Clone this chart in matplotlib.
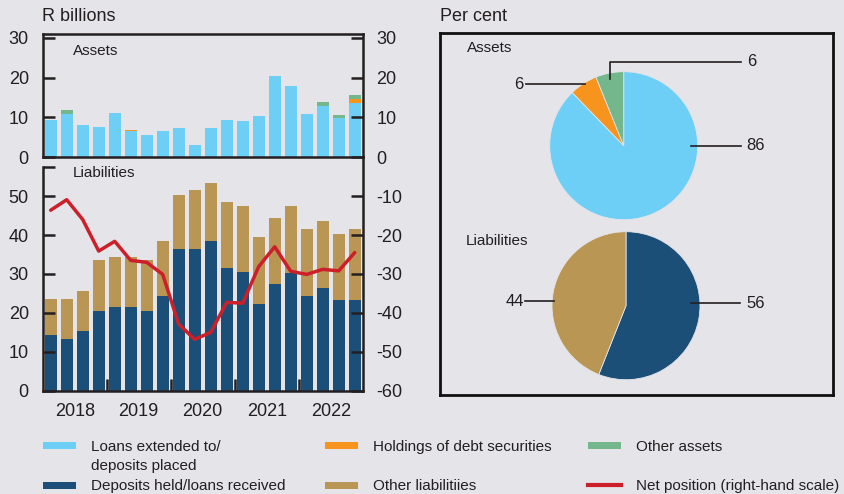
import matplotlib
matplotlib.use("Agg")
import matplotlib.pyplot as plt
from matplotlib.patches import Rectangle
from matplotlib.lines import Line2D
import numpy as np

# ---------------- data ----------------
quarters = [f"{y}Q{q}" for y in range(2018, 2023) for q in range(1, 5)]
years = ["2018", "2019", "2020", "2021", "2022"]

loans_extended = [9.3, 10.9, 8.0, 7.5, 11.1, 6.6, 5.7, 6.5, 7.3, 3.2,
                  7.3, 9.3, 9.1, 10.3, 20.3, 17.8, 10.9, 12.9, 9.8, 13.7]
debt_securities = [0, 0, 0, 0, 0, 0.15, 0, 0, 0, 0,
                   0, 0, 0, 0, 0, 0, 0, 0, 0, 1.0]
other_assets = [0, 1.0, 0, 0, 0, 0, 0, 0, 0, 0,
                0, 0, 0, 0, 0, 0, 0, 1.0, 0.9, 1.0]

deposits_held = [14.3, 13.2, 15.3, 20.4, 21.5, 21.5, 20.4, 24.3, 36.3, 36.3,
                 38.4, 31.5, 30.4, 22.2, 27.4, 30.2, 24.3, 26.3, 23.2, 23.2]
other_liabilities = [9.2, 10.3, 10.3, 13.1, 12.8, 12.8, 13.1, 14.1, 14.1, 15.2,
                     15.1, 16.9, 17.0, 17.2, 17.1, 17.2, 17.2, 17.2, 17.2, 18.3]

net_position = [-13.6, -10.9, -16.0, -24.1, -21.6, -26.5, -27.0, -30.1, -42.9, -46.8,
                -45.0, -37.3, -37.5, -28.1, -23.0, -29.3, -30.1, -28.8, -29.2, -24.5]

asset_shares = [86, 6, 6]          # loans, debt securities, other assets
liability_shares = [56, 44]        # deposits held, other liabilities

left_ticks_top = [0, 10, 20, 30]
left_ticks_bot = [0, 10, 20, 30, 40, 50]
right_ticks_bot = [-60, -50, -40, -30, -20, -10]

# ---------------- style ----------------
BG = "#e4e4e9"
C_LOANS = "#6dcff6"
C_DEBT = "#f7941d"
C_OTHER_A = "#74b78c"
C_DEP = "#1c4f78"
C_OTHER_L = "#b99653"
C_NET = "#cc1f2a"
TXT = "#231f20"

FS_AX = 13      # tick labels, units, years
FS_PANEL = 11   # "Assets" / "Liabilities"
FS_PIE = 12     # pie values
FS_LEG = 11     # legend

plt.rcParams["font.family"] = ["Liberation Sans", "DejaVu Sans"]
plt.rcParams["font.size"] = FS_AX
plt.rcParams["axes.unicode_minus"] = False
plt.rcParams["text.color"] = TXT

W, H = 844, 494
fig = plt.figure(figsize=(W / 100, H / 100), dpi=100)
fig.patch.set_facecolor(BG)


def box(x0, y0, x1, y1):
    """pixel box (top-left origin) -> figure fraction rect"""
    return [x0 / W, 1 - y1 / H, (x1 - x0) / W, (y1 - y0) / H]


SPINE_W = 1.8
TICK_LEN = 8.6
x = np.arange(len(quarters))
bw = 0.75

# ---------------- top panel: assets ----------------
ax_t = fig.add_axes(box(42.7, 33.7, 362.7, 157.3))
ax_t.set_facecolor("none")
b0 = np.zeros(len(x))
for vals, col in [(loans_extended, C_LOANS), (debt_securities, C_DEBT), (other_assets, C_OTHER_A)]:
    ax_t.bar(x, vals, bw, bottom=b0, color=col, linewidth=0)
    b0 = b0 + np.array(vals)
ax_t.set_xlim(-0.5, len(x) - 0.5)
ax_t.set_ylim(0, 31)
ax_t.set_xticks([])
ax_t.set_yticks(left_ticks_top)
ax_t.tick_params(axis="y", direction="in", length=TICK_LEN, width=SPINE_W,
                 labelsize=FS_AX, pad=10, colors=TXT, left=True, right=True,
                 labelleft=True, labelright=True)
for s in ax_t.spines.values():
    s.set_linewidth(SPINE_W)
    s.set_color(TXT)
ax_t.text(0.095, 0.86, "Assets", transform=ax_t.transAxes, fontsize=FS_PANEL,
          va="center", ha="left")

# ---------------- bottom panel: liabilities ----------------
ax_b = fig.add_axes(box(42.7, 157.3, 362.7, 390.7))
ax_b.set_facecolor("none")
ax_b.bar(x, deposits_held, bw, color=C_DEP, linewidth=0)
ax_b.bar(x, other_liabilities, bw, bottom=deposits_held, color=C_OTHER_L, linewidth=0)
ax_b.set_xlim(-0.5, len(x) - 0.5)
ax_b.set_ylim(0, 60)
ax_b.set_yticks(left_ticks_bot)
ax_b.set_yticks([57.6], minor=True)
ax_b.tick_params(axis="y", which="both", direction="in", length=TICK_LEN, width=SPINE_W,
                 labelsize=FS_AX, pad=10, colors=TXT, left=True, right=False)
ax_b.spines["top"].set_visible(False)
ax_b.spines["right"].set_visible(False)
ax_b.spines["left"].set_bounds(0, 57.6)
for s in ("left", "bottom"):
    ax_b.spines[s].set_linewidth(SPINE_W)
    ax_b.spines[s].set_color(TXT)

# year boundaries as inward ticks, year names centred under each year
ax_b.set_xticks([3.5, 7.5, 11.5, 15.5])
ax_b.set_xticklabels([])
ax_b.set_xticks([1.5, 5.5, 9.5, 13.5, 17.5], minor=True)
ax_b.set_xticklabels(years, minor=True)
ax_b.tick_params(axis="x", which="major", direction="in", length=TICK_LEN,
                 width=SPINE_W, colors=TXT)
ax_b.tick_params(axis="x", which="minor", length=0, labelsize=FS_AX, pad=9, colors=TXT)
ax_b.text(0.095, 0.932, "Liabilities", transform=ax_b.transAxes, fontsize=FS_PANEL,
          va="center", ha="left")

ax_r = ax_b.twinx()
ax_r.plot(x, net_position, color=C_NET, linewidth=2.5, solid_joinstyle="round",
          solid_capstyle="round")
ax_r.set_ylim(-60, 0)
ax_r.set_yticks(right_ticks_bot)
ax_r.tick_params(axis="y", direction="in", length=TICK_LEN, width=SPINE_W,
                 labelsize=FS_AX, pad=10, colors=TXT)
for s in ("top", "left", "bottom"):
    ax_r.spines[s].set_visible(False)
ax_r.spines["right"].set_linewidth(SPINE_W)
ax_r.spines["right"].set_color(TXT)

fig.text(42 / W, 1 - 16.7 / H, "R billions", fontsize=FS_AX, va="center", ha="left")

# ---------------- right panel: composition pies ----------------
PX0, PY0, PX1, PY1 = 440, 33, 833, 395
ax_p = fig.add_axes(box(PX0, PY0, PX1, PY1))
ax_p.set_facecolor("none")
R = 74
ca = (183.7, 249.3)   # assets pie centre (box units, y up)
cl = (186.0, 89.3)    # liabilities pie centre
wp = dict(linewidth=0.6, edgecolor=BG)
ax_p.pie(asset_shares, colors=[C_LOANS, C_DEBT, C_OTHER_A], startangle=90,
         counterclock=False, radius=R, center=ca, frame=True, wedgeprops=wp)
ax_p.pie(liability_shares, colors=[C_DEP, C_OTHER_L], startangle=90,
         counterclock=False, radius=R, center=cl, frame=True, wedgeprops=wp)
ax_p.set_xlim(0, PX1 - PX0)
ax_p.set_ylim(0, PY1 - PY0)
ax_p.set_aspect("auto")
ax_p.set_xticks([])
ax_p.set_yticks([])
for s in ax_p.spines.values():
    s.set_linewidth(2.0)
    s.set_color("#111111")

lk = dict(color=TXT, linewidth=1.2)
# assets labels
ax_p.plot([ca[0] + 67, ca[0] + 117], [ca[1], ca[1]], **lk)
ax_p.text(ca[0] + 123, ca[1], f"{asset_shares[0]}", va="center", ha="left", fontsize=FS_PIE)
ax_p.plot([ca[0] - 97.7, ca[0] - 38.7], [ca[1] + 61.5, ca[1] + 61.5], **lk)
ax_p.text(ca[0] - 100, ca[1] + 61.5, f"{asset_shares[1]}", va="center", ha="right", fontsize=FS_PIE)
ax_p.plot([ca[0] - 13.7, ca[0] - 13.7, ca[0] + 117], [ca[1] + 66.7, ca[1] + 83.7, ca[1] + 83.7], **lk)
ax_p.text(ca[0] + 123, ca[1] + 83.7, f"{asset_shares[2]}", va="center", ha="left", fontsize=FS_PIE)
# liabilities labels
ax_p.plot([cl[0] + 65, cl[0] + 114], [cl[1] + 2.4, cl[1] + 2.4], **lk)
ax_p.text(cl[0] + 120, cl[1] + 2.4, f"{liability_shares[0]}", va="center", ha="left", fontsize=FS_PIE)
ax_p.plot([cl[0] - 100.7, cl[0] - 71.7], [cl[1] + 4.7, cl[1] + 4.7], **lk)
ax_p.text(cl[0] - 102, cl[1] + 4.7, f"{liability_shares[1]}", va="center", ha="right", fontsize=FS_PIE)

ax_p.text(27, (PY1 - PY0) - 15, "Assets", fontsize=FS_PANEL, va="center", ha="left")
ax_p.text(25.5, (PY1 - PY0) - 208, "Liabilities", fontsize=FS_PANEL, va="center", ha="left")

fig.text(440 / W, 1 - 16.7 / H, "Per cent", fontsize=FS_AX, va="center", ha="left")

# ---------------- legend ----------------
def legend_patch(x0, x1, yc, color):
    fig.patches.append(Rectangle((x0 / W, 1 - (yc + 3.5) / H), (x1 - x0) / W, 7 / H,
                                 transform=fig.transFigure, facecolor=color,
                                 edgecolor="none"))


def legend_line(x0, x1, yc, color):
    fig.lines.append(Line2D([x0 / W, x1 / W], [1 - yc / H, 1 - yc / H],
                            transform=fig.transFigure, color=color, linewidth=3))


def legend_text(xp, yc, s):
    fig.text(xp / W, 1 - yc / H, s, fontsize=FS_LEG, va="center", ha="left")


legend_patch(42.7, 76, 445.7, C_LOANS)
legend_text(90.7, 447.2, "Loans extended to/")
legend_text(90.7, 465.7, "deposits placed")
legend_patch(42.7, 76, 485, C_DEP)
legend_text(90.7, 485.5, "Deposits held/loans received")
legend_patch(325, 358.3, 445.7, C_DEBT)
legend_text(372.7, 447.2, "Holdings of debt securities")
legend_patch(325, 358.3, 485, C_OTHER_L)
legend_text(372.7, 485.5, "Other liabilitiies")
legend_patch(588.3, 621, 445.7, C_OTHER_A)
legend_text(636, 447.2, "Other assets")
legend_line(588.3, 621, 485, C_NET)
legend_text(636, 485.5, "Net position (right-hand scale)")

fig.savefig("out.png", dpi=100, facecolor=BG)
